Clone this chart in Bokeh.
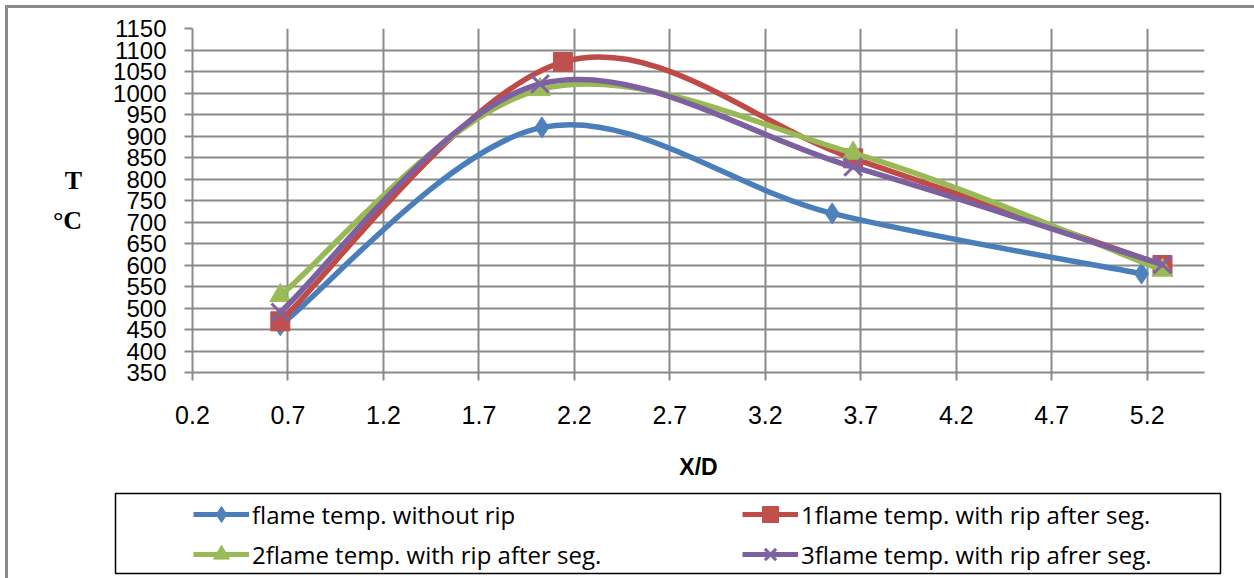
import numpy as np
from bokeh.plotting import figure
from bokeh.layouts import column
from bokeh.models import Range1d, FixedTicker, Legend, LegendItem
from bokeh.embed import file_html
from bokeh.resources import INLINE

# ---- data ----
x_ticks = [0.2, 0.7, 1.2, 1.7, 2.2, 2.7, 3.2, 3.7, 4.2, 4.7, 5.2]
y_ticks = list(range(350, 1151, 50))

x_s0 = [0.66, 2.03, 3.55, 5.17]
t_s0 = [460, 920, 720, 580]
x_s1 = [0.66, 2.14, 3.66, 5.28]
t_s1 = [469, 1072, 848, 600]
x_s2 = [0.66, 2.02, 3.66, 5.28]
t_s2 = [529, 1008, 860, 588]
x_s3 = [0.66, 2.02, 3.66, 5.28]
t_s3 = [490, 1021, 828, 601]

names = ["flame temp. without rip", "1flame temp. with rip after seg.",
         "2flame temp. with rip after seg.", "3flame temp. with rip afrer seg."]
line_colors = ["#4A7EBB", "#BE4B48", "#98B954", "#7D60A0"]
mark_colors = ["#4F81BD", "#C0504D", "#9BBB59", "#8064A2"]
markers = ["diamond", "square", "triangle", "x"]
mark_sizes = [21, 19, 21, 25]

GRID = "#8a8a8a"
W = 1254
H1 = 485
H2 = 578 - H1

# ---------------- main chart ----------------
p = figure(width=W, height=H1, output_backend="svg", toolbar_location=None,
           x_range=Range1d(0.2, 5.5), y_range=Range1d(350, 1150),
           min_border_left=192, min_border_right=W - 1204, min_border_top=28,
           min_border_bottom=H1 - 372)
p.outline_line_color = None
p.background_fill_color = "white"
p.border_fill_color = None

for ax, ticks in ((p.xaxis[0], x_ticks), (p.yaxis[0], y_ticks)):
    ax.ticker = FixedTicker(ticks=ticks)
    ax.axis_line_color = GRID
    ax.axis_line_width = 2
    ax.major_tick_line_color = GRID
    ax.major_tick_line_width = 2
    ax.major_tick_in = 0
    ax.major_tick_out = 8
    ax.minor_tick_line_color = None
    ax.major_label_text_font = "Liberation Sans"
    ax.major_label_text_color = "black"
p.xaxis[0].major_label_text_font_size = "25px"
p.yaxis[0].major_label_text_font_size = "24px"
p.xaxis[0].major_label_standoff = 25
p.yaxis[0].major_label_standoff = 18
p.xaxis[0].major_label_overrides = {t: f"{t:.1f}" for t in x_ticks}

p.xaxis[0].axis_label = "X/D"
p.xaxis[0].axis_label_text_font = "Liberation Sans"
p.xaxis[0].axis_label_text_font_style = "bold"
p.xaxis[0].axis_label_text_font_size = "23px"
p.xaxis[0].axis_label_text_color = "black"
p.xaxis[0].axis_label_standoff = 27

p.yaxis[0].axis_label = "T\n°C"
p.yaxis[0].axis_label_orientation = "horizontal"
p.yaxis[0].axis_label_text_font = "Liberation Serif"
p.yaxis[0].axis_label_text_font_style = "bold"
p.yaxis[0].axis_label_text_font_size = "26px"
p.yaxis[0].axis_label_text_line_height = 1.35
p.yaxis[0].axis_label_text_color = "black"
p.yaxis[0].axis_label_text_align = "center"
p.yaxis[0].axis_label_standoff = 28

p.xgrid.ticker = FixedTicker(ticks=x_ticks)
p.ygrid.ticker = FixedTicker(ticks=y_ticks)
for g in (p.xgrid[0], p.ygrid[0]):
    g.grid_line_color = GRID
    g.grid_line_width = 2


def smooth_segments(xs, ys):
    n = len(xs)
    P = np.column_stack([xs, ys]).astype(float)
    segs = {k: [] for k in ("x0", "y0", "x1", "y1", "cx0", "cy0", "cx1", "cy1")}
    for i in range(n - 1):
        prev = P[i - 1] if i > 0 else P[i]
        nxt = P[i + 2] if i + 2 < n else P[i + 1]
        c1 = P[i] + (P[i + 1] - prev) / 6.0
        c2 = P[i + 1] - (nxt - P[i]) / 6.0
        segs["x0"].append(P[i][0]); segs["y0"].append(P[i][1])
        segs["x1"].append(P[i + 1][0]); segs["y1"].append(P[i + 1][1])
        segs["cx0"].append(c1[0]); segs["cy0"].append(c1[1])
        segs["cx1"].append(c2[0]); segs["cy1"].append(c2[1])
    return segs


def add_marker(fig, xs, ys, k):
    if markers[k] == "x":
        return fig.scatter(xs, ys, marker="x", size=mark_sizes[k],
                           line_color=mark_colors[k], line_width=3)
    return fig.scatter(xs, ys, marker=markers[k], size=mark_sizes[k],
                       fill_color=mark_colors[k], line_color=mark_colors[k], line_width=1)


series = [(x_s0, t_s0), (x_s1, t_s1), (x_s2, t_s2), (x_s3, t_s3)]
for k, (xs, ys) in enumerate(series):
    s = smooth_segments(xs, ys)
    p.bezier(x0=s["x0"], y0=s["y0"], x1=s["x1"], y1=s["y1"],
             cx0=s["cx0"], cy0=s["cy0"], cx1=s["cx1"], cy1=s["cy1"],
             line_color=line_colors[k], line_width=5.5, line_cap="round")
    add_marker(p, xs, ys, k)

# ---------------- legend box ----------------
q = figure(width=W, height=H2, output_backend="svg", toolbar_location=None,
           x_range=Range1d(0, 1), y_range=Range1d(0, 1),
           x_axis_type=None, y_axis_type=None,
           min_border_left=115, min_border_right=W - 1220,
           min_border_top=493 - H1, min_border_bottom=578 - 573)
q.outline_line_color = "black"
q.outline_line_width = 1.5
q.background_fill_color = "white"
q.border_fill_color = None

for fig in (p, q):
    try:
        fig.frame_align = False
    except Exception:
        pass

items = []
for k in range(4):
    dl = q.line(x=[np.nan], y=[np.nan], line_color=line_colors[k], line_width=5)
    dm = add_marker(q, [np.nan], [np.nan], k)
    items.append(LegendItem(label=names[k], renderers=[dl, dm]))

leg = Legend(items=items, location=(193 - 115, -1), orientation="horizontal",
             ncols=2, padding=0, margin=0, spacing=0,
             glyph_width=56, glyph_height=40, label_height=40,
             label_width=490, label_standoff=3,
             label_text_font="Open Sans", label_text_font_size="24px",
             label_text_color="black",
             border_line_alpha=0, background_fill_alpha=0)
q.add_layout(leg, "center")

bg = ("linear-gradient(#8a8a8a, #8a8a8a) 5px 5px / 3px 100% no-repeat, "
      "linear-gradient(#8a8a8a, #8a8a8a) 5px 5px / 100% 3px no-repeat, white")
layout = column(p, q, spacing=0, styles={"background": bg})

open("out.html", "w").write(file_html(layout, INLINE))
